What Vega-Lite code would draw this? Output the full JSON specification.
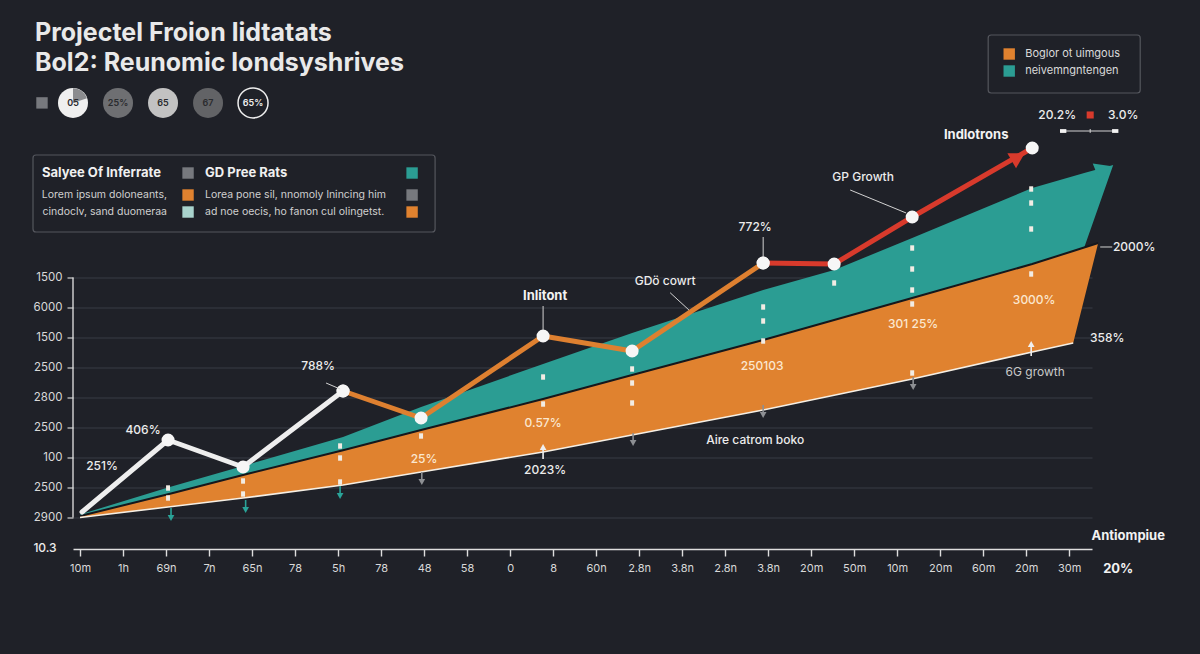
{
  "$schema": "https://vega.github.io/schema/vega-lite/v6.json",
  "width": 1019,
  "height": 271.5,
  "autosize": {"type": "none"},
  "padding": {"left": 73, "top": 277.5, "right": 108, "bottom": 105},
  "background": "#1f2128",
  "config": {
    "view": {"stroke": null},
    "font": "Inter",
    "axis": {"labelFont": "Inter", "labelColor": "#d9d9d9"}
  },
  "datasets": {
    "bands": [
      {"band": "orange", "x": 0, "y": 0.05, "y2": 0},
      {"band": "orange", "x": 2.047, "y": 0.773, "y2": 0.35},
      {"band": "orange", "x": 3.791, "y": 1.417, "y2": 0.65},
      {"band": "orange", "x": 6.116, "y": 2.243, "y2": 1.083},
      {"band": "orange", "x": 7.93, "y": 2.917, "y2": 1.517},
      {"band": "orange", "x": 10.767, "y": 3.95, "y2": 2.183},
      {"band": "orange", "x": 12.837, "y": 4.75, "y2": 2.75},
      {"band": "orange", "x": 15.884, "y": 5.917, "y2": 3.583},
      {"band": "orange", "x": 19.349, "y": 7.317, "y2": 4.617},
      {"band": "orange", "x": 22.14, "y": 8.45, "y2": 5.517},
      {"band": "orange", "x": 23.093, "y": 8.883, "y2": 5.817},
      {"band": "orange", "x": 23.674, "y": 9.15, "y2": 9.15},
      {"band": "teal", "x": 0, "y": 0.1, "y2": 0.05},
      {"band": "teal", "x": 2.047, "y": 1.0, "y2": 0.773},
      {"band": "teal", "x": 3.791, "y": 1.717, "y2": 1.417},
      {"band": "teal", "x": 6.116, "y": 2.683, "y2": 2.243},
      {"band": "teal", "x": 7.93, "y": 3.683, "y2": 2.917},
      {"band": "teal", "x": 10.767, "y": 5.117, "y2": 3.95},
      {"band": "teal", "x": 12.837, "y": 6.15, "y2": 4.75},
      {"band": "teal", "x": 15.884, "y": 7.583, "y2": 5.917},
      {"band": "teal", "x": 17.535, "y": 8.25, "y2": 6.583},
      {"band": "teal", "x": 19.349, "y": 9.317, "y2": 7.317},
      {"band": "teal", "x": 22.14, "y": 10.983, "y2": 8.45},
      {"band": "teal", "x": 23.349, "y": 11.483, "y2": 9.0},
      {"band": "teal", "x": 24.023, "y": 11.75, "y2": 11.75}
    ],
    "series": [
      {"seg": "a", "x": 0.047, "y": 0.183},
      {"seg": "a", "x": 2.047, "y": 2.583},
      {"seg": "a", "x": 3.791, "y": 1.683},
      {"seg": "a", "x": 6.116, "y": 4.217},
      {"seg": "b", "x": 6.116, "y": 4.217},
      {"seg": "b", "x": 7.93, "y": 3.317},
      {"seg": "b", "x": 10.767, "y": 6.05},
      {"seg": "b", "x": 12.837, "y": 5.55},
      {"seg": "b", "x": 15.884, "y": 8.483},
      {"seg": "c", "x": 15.884, "y": 8.483},
      {"seg": "c", "x": 17.535, "y": 8.45},
      {"seg": "c", "x": 19.349, "y": 10.017},
      {"seg": "c", "x": 22.14, "y": 12.317}
    ],
    "heads": [
      {"series": "c", "x": 21.814, "y": 12.017},
      {"series": "teal", "x": 23.814, "y": 11.6}
    ],
    "markers": [
      {"x": 2.047, "y": 0.983}, {"x": 2.047, "y": 0.65},
      {"x": 3.791, "y": 1.217}, {"x": 3.791, "y": 0.783},
      {"x": 6.047, "y": 2.383}, {"x": 6.047, "y": 1.983}, {"x": 6.047, "y": 1.183},
      {"x": 7.93, "y": 2.717},
      {"x": 10.767, "y": 4.683}, {"x": 10.767, "y": 3.783},
      {"x": 12.837, "y": 4.95}, {"x": 12.837, "y": 4.483}, {"x": 12.837, "y": 3.817},
      {"x": 15.884, "y": 7.017}, {"x": 15.884, "y": 6.55}, {"x": 15.884, "y": 5.883},
      {"x": 17.535, "y": 7.817},
      {"x": 19.349, "y": 8.983}, {"x": 19.349, "y": 8.283}, {"x": 19.349, "y": 7.583}, {"x": 19.349, "y": 7.117}, {"x": 19.349, "y": 4.817},
      {"x": 22.116, "y": 10.95}, {"x": 22.116, "y": 10.483}, {"x": 22.116, "y": 9.617}, {"x": 22.116, "y": 8.117}
    ],
    "arrows": [
      {"x": 2.116, "y": -0.017, "y2": 0.317, "dir": "down", "tone": "teal"},
      {"x": 3.851, "y": 0.25, "y2": 0.583, "dir": "down", "tone": "teal"},
      {"x": 6.047, "y": 0.717, "y2": 1.05, "dir": "down", "tone": "teal"},
      {"x": 7.947, "y": 1.183, "y2": 1.517, "dir": "down", "tone": "gray"},
      {"x": 12.86, "y": 2.483, "y2": 2.817, "dir": "down", "tone": "gray"},
      {"x": 15.884, "y": 3.417, "y2": 3.75, "dir": "down", "tone": "gray"},
      {"x": 19.372, "y": 4.35, "y2": 4.683, "dir": "down", "tone": "gray"},
      {"x": 10.767, "y": 2.35, "y2": 1.95, "dir": "up", "tone": "white"},
      {"x": 22.116, "y": 5.783, "y2": 5.383, "dir": "up", "tone": "white"}
    ],
    "leaders": [
      {"x": 10.767, "y": 7.05, "x2": 10.767, "y2": 6.25},
      {"x": 15.884, "y": 9.35, "x2": 15.884, "y2": 8.683},
      {"x": 17.907, "y": 10.917, "x2": 19.209, "y2": 10.15},
      {"x": 13.721, "y": 7.493, "x2": 14.158, "y2": 6.917},
      {"x": 5.721, "y": 4.483, "x2": 6.047, "y2": 4.283},
      {"x": 23.721, "y": 9.017, "x2": 24.0, "y2": 9.017},
      {"x": 22.86, "y": 12.883, "x2": 24.07, "y2": 12.883},
      {"x": 23.488, "y": 12.95, "x2": 23.488, "y2": 12.82}
    ],
    "frame": [
      {"x": -0.163, "y": 0, "x2": -0.163, "y2": 8}
    ],
    "caps": [
      {"x": 22.86, "y": 12.883},
      {"x": 24.07, "y": 12.883}
    ],
    "flags": [
      {"x": 23.488, "y": 13.417}
    ],
    "boxes": [
      {"x": 21.116, "x2": 24.651, "y": 16.083, "y2": 14.15},
      {"x": -1.093, "x2": 8.256, "y": 12.083, "y2": 9.517}
    ],
    "keys": [
      {"x": -0.884, "y": 13.82, "tone": "gray"},
      {"x": 21.605, "y": 15.45, "tone": "orange"},
      {"x": 21.605, "y": 14.883, "tone": "teal"},
      {"x": 2.512, "y": 11.483, "tone": "gray"},
      {"x": 7.721, "y": 11.483, "tone": "teal"},
      {"x": 2.512, "y": 10.75, "tone": "orange"},
      {"x": 7.721, "y": 10.75, "tone": "gray"},
      {"x": 2.512, "y": 10.183, "tone": "mint"},
      {"x": 7.721, "y": 10.183, "tone": "orange"}
    ],
    "badges": [
      {"x": -0.163, "y": 13.82, "tone": "white", "label": "05"},
      {"x": 0.884, "y": 13.82, "tone": "mid", "label": "25%"},
      {"x": 1.93, "y": 13.82, "tone": "light", "label": "65"},
      {"x": 2.977, "y": 13.82, "tone": "dark", "label": "67"},
      {"x": 4.023, "y": 13.82, "tone": "ring", "label": "65%"}
    ],
    "notes": [
      {"kind": "title", "x": -1.047, "y": 16.15, "label": "Projectel Froion lidtatats"},
      {"kind": "title", "x": -1.047, "y": 15.15, "label": "Bol2: Reunomic londsyshrives"},
      {"kind": "bold", "x": 10.814, "y": 7.383, "label": "Inlitont"},
      {"kind": "bold", "x": 20.837, "y": 12.75, "label": "Indlotrons"},
      {"kind": "bold", "x": 24.372, "y": -0.617, "label": "Antiompiue"},
      {"kind": "bold", "x": 24.14, "y": -1.717, "label": "20%"},
      {"kind": "plain", "x": 0.512, "y": 1.717, "label": "251%"},
      {"kind": "plain", "x": 1.465, "y": 2.917, "label": "406%"},
      {"kind": "plain", "x": 5.535, "y": 5.05, "label": "788%"},
      {"kind": "plain", "x": 13.605, "y": 7.883, "label": "GDö cowrt"},
      {"kind": "plain", "x": 15.698, "y": 9.683, "label": "772%"},
      {"kind": "plain", "x": 18.209, "y": 11.35, "label": "GP Growth"},
      {"kind": "plain", "x": 24.512, "y": 9.017, "label": "2000%"},
      {"kind": "plain", "x": 23.884, "y": 5.983, "label": "358%"},
      {"kind": "plain", "x": 10.814, "y": 1.583, "label": "2023%"},
      {"kind": "plain", "x": 15.698, "y": 2.583, "label": "Aire catrom boko"},
      {"kind": "plain", "x": 22.721, "y": 13.417, "label": "20.2%"},
      {"kind": "plain", "x": 24.256, "y": 13.417, "label": "3.0%"},
      {"kind": "plain", "x": -0.814, "y": -1.017, "label": "10.3"},
      {"kind": "band", "x": 22.186, "y": 7.25, "label": "3000%"},
      {"kind": "band", "x": 19.372, "y": 6.45, "label": "301 25%"},
      {"kind": "band", "x": 15.86, "y": 5.05, "label": "250103"},
      {"kind": "band", "x": 10.767, "y": 3.15, "label": "0.57%"},
      {"kind": "band", "x": 8.0, "y": 1.95, "label": "25%"},
      {"kind": "dim", "x": 22.209, "y": 4.85, "label": "6G growth"},
      {"kind": "legend", "x": 21.977, "y": 15.45, "label": "Boglor ot uimgous"},
      {"kind": "legend", "x": 21.977, "y": 14.883, "label": "neivemngntengen"},
      {"kind": "boxhead", "x": -0.884, "y": 11.483, "label": "Salyee Of Inferrate"},
      {"kind": "boxhead", "x": 2.907, "y": 11.483, "label": "GD Pree Rats"},
      {"kind": "boxright", "x": 2.023, "y": 10.75, "label": "Lorem ipsum doloneants,"},
      {"kind": "boxright", "x": 2.023, "y": 10.183, "label": "cindoclv, sand duomeraa"},
      {"kind": "boxleft", "x": 2.907, "y": 10.75, "label": "Lorea pone sil, nnomoly lnincing him"},
      {"kind": "boxleft", "x": 2.907, "y": 10.183, "label": "ad noe oecis, ho fanon cul olingetst."}
    ]
  },
  "encoding": {
    "x": {
      "field": "x", "type": "quantitative", "title": null,
      "scale": {"domain": [-0.163, 23.53], "nice": false, "zero": false},
      "axis": {
        "values": [0, 1, 2, 3, 4, 5, 6, 7, 8, 9, 10, 11, 12, 13, 14, 15, 16, 17, 18, 19, 20, 21, 22, 23],
        "labelExpr": "['10m','1h','69n','7n','65n','78','5h','78','48','58','0','8','60n','2.8n','3.8n','2.8n','3.8n','20m','50m','10m','20m','60m','20m','30m'][datum.value]",
        "labelFlush": false, "labelOverlap": false, "grid": false,
        "domainColor": "#dedede", "domainWidth": 1.6,
        "tickColor": "#dedede", "tickWidth": 1.4, "tickSize": 7,
        "labelPadding": 6, "labelFontSize": 11
      }
    },
    "y": {
      "field": "y", "type": "quantitative", "title": null, "stack": null,
      "scale": {"domain": [-1.05, 8], "nice": false, "zero": false},
      "axis": {
        "values": [0, 1, 2, 3, 4, 5, 6, 7, 8],
        "labelExpr": "['2900','2500','100','2500','2800','2500','1500','6000','1500'][datum.value]",
        "domain": false, "grid": true, "gridColor": "#393c45", "gridWidth": 1,
        "tickColor": "#cfcfcf", "tickSize": 6, "tickWidth": 1.2,
        "labelPadding": 5, "labelFontSize": 11.5
      }
    }
  },
  "layer": [
    {
      "data": {"name": "frame"},
      "mark": {"type": "rule", "color": "#d6d6d6", "strokeWidth": 1.4},
      "encoding": {"x2": {"field": "x2"}, "y2": {"field": "y2"}}
    },
    {
      "data": {"name": "bands"},
      "mark": {"type": "area", "opacity": 1},
      "encoding": {
        "y2": {"field": "y2"},
        "color": {"field": "band", "type": "nominal", "legend": null,
          "scale": {"domain": ["orange", "teal"], "range": ["#e0822f", "#2b9d93"]}}
      }
    },
    {
      "data": {"name": "bands"},
      "transform": [{"filter": "datum.band === 'orange'"}],
      "mark": {"type": "line", "color": "#15171c", "strokeWidth": 2},
      "encoding": {}
    },
    {
      "data": {"name": "bands"},
      "transform": [{"filter": "datum.band === 'orange' && datum.x < 23.5"}],
      "mark": {"type": "line", "color": "#f6efe4", "strokeWidth": 1.6},
      "encoding": {
        "y": {"field": "y2", "type": "quantitative", "title": null,
          "scale": {"domain": [-1.05, 8], "nice": false, "zero": false}}
      }
    },
    {
      "data": {"name": "markers"},
      "mark": {"type": "point", "filled": true, "opacity": 1, "color": "#f2ece4",
        "shape": "M-0.55,-0.75L0.55,-0.75L0.55,0.75L-0.55,0.75Z", "size": 52}
    },
    {
      "data": {"name": "arrows"},
      "mark": {"type": "rule", "strokeWidth": 1.6},
      "encoding": {
        "y2": {"field": "y2"},
        "color": {"field": "tone", "type": "nominal", "legend": null,
          "scale": {"domain": ["teal", "gray", "white"], "range": ["#2aa398", "#8d8f93", "#efefef"]}}
      }
    },
    {
      "data": {"name": "arrows"},
      "mark": {"type": "point", "filled": true, "opacity": 1, "size": 45},
      "encoding": {
        "shape": {"field": "dir", "type": "nominal", "legend": null,
          "scale": {"domain": ["down", "up"], "range": ["triangle-down", "triangle-up"]}},
        "color": {"field": "tone", "type": "nominal", "legend": null,
          "scale": {"domain": ["teal", "gray", "white"], "range": ["#2aa398", "#8d8f93", "#efefef"]}}
      }
    },
    {
      "data": {"name": "heads"},
      "transform": [{"filter": "datum.series === 'teal'"}],
      "mark": {"type": "point", "filled": true, "opacity": 1, "shape": "triangle-up", "angle": 68, "size": 380, "color": "#2b9d93"}
    },
    {
      "data": {"name": "series"},
      "mark": {"type": "line", "strokeWidth": 5, "strokeCap": "round", "strokeJoin": "round"},
      "encoding": {
        "color": {"field": "seg", "type": "nominal", "legend": null,
          "scale": {"domain": ["a", "b", "c"], "range": ["#eeeeee", "#de8030", "#d83a2c"]}}
      }
    },
    {
      "data": {"name": "heads"},
      "transform": [{"filter": "datum.series === 'c'"}],
      "mark": {"type": "point", "filled": true, "opacity": 1, "shape": "triangle-up", "angle": 60, "size": 300, "color": "#d83a2c"}
    },
    {
      "data": {"name": "series"},
      "transform": [{"filter": "datum.x > 0.1"}],
      "mark": {"type": "point", "filled": true, "opacity": 1, "size": 170, "color": "#f6f6f6"}
    },
    {
      "data": {"name": "leaders"},
      "mark": {"type": "rule", "color": "#d2d2d2", "strokeWidth": 1},
      "encoding": {"x2": {"field": "x2"}, "y2": {"field": "y2"}}
    },
    {
      "data": {"name": "caps"},
      "mark": {"type": "point", "filled": true, "opacity": 1, "color": "#f2f2f2",
        "shape": "M-1,-0.6L1,-0.6L1,0.6L-1,0.6Z", "size": 40}
    },
    {
      "data": {"name": "flags"},
      "mark": {"type": "point", "filled": true, "opacity": 1, "shape": "square", "size": 50, "color": "#d83a2c"}
    },
    {
      "data": {"name": "boxes"},
      "mark": {"type": "rect", "fill": "#1f2128", "fillOpacity": 0, "stroke": "#54565d", "strokeWidth": 1.2, "cornerRadius": 3},
      "encoding": {"x2": {"field": "x2"}, "y2": {"field": "y2"}}
    },
    {
      "data": {"name": "keys"},
      "mark": {"type": "point", "filled": true, "opacity": 1, "shape": "square", "size": 130},
      "encoding": {
        "color": {"field": "tone", "type": "nominal", "legend": null,
          "scale": {"domain": ["gray", "orange", "teal", "mint"], "range": ["#77797e", "#e0822f", "#2b9d93", "#a9d3cd"]}}
      }
    },
    {
      "data": {"name": "badges"},
      "mark": {"type": "point", "filled": true, "opacity": 1, "shape": "circle", "size": 900},
      "encoding": {
        "color": {"field": "tone", "type": "nominal", "legend": null,
          "scale": {"domain": ["white", "mid", "light", "dark", "ring"], "range": ["#efefef", "#6e6f72", "#c2c2c2", "#626366", "#1f2128"]}}
      }
    },
    {
      "data": {"name": "badges"},
      "transform": [{"filter": "datum.tone === 'ring'"}],
      "mark": {"type": "point", "filled": false, "opacity": 1, "shape": "circle", "size": 900, "color": "#eeeeee", "strokeWidth": 1.5}
    },
    {
      "data": {"name": "badges"},
      "transform": [{"filter": "datum.tone === 'white'"}],
      "mark": {"type": "point", "filled": true, "opacity": 1, "shape": "M0,0L0,-1A1,1,0,0,1,0.95,-0.31Z", "size": 860, "color": "#8b8c8f"}
    },
    {
      "data": {"name": "badges"},
      "transform": [{"filter": "datum.tone !== 'ring'"}],
      "mark": {"type": "text", "fontSize": 9, "fontWeight": 600, "color": "#2a2b2e", "align": "center", "baseline": "middle"},
      "encoding": {"text": {"field": "label"}}
    },
    {
      "data": {"name": "badges"},
      "transform": [{"filter": "datum.tone === 'ring'"}],
      "mark": {"type": "text", "fontSize": 9, "fontWeight": 600, "color": "#eeeeee", "align": "center", "baseline": "middle"},
      "encoding": {"text": {"field": "label"}}
    },
    {
      "data": {"name": "notes"},
      "transform": [{"filter": "datum.kind === 'title'"}],
      "mark": {"type": "text", "fontSize": 25, "fontWeight": 700, "color": "#e9e9e9", "align": "left", "baseline": "middle"},
      "encoding": {"text": {"field": "label"}}
    },
    {
      "data": {"name": "notes"},
      "transform": [{"filter": "datum.kind === 'bold'"}],
      "mark": {"type": "text", "fontSize": 13, "fontWeight": 700, "color": "#f2f2f2", "align": "center", "baseline": "middle"},
      "encoding": {"text": {"field": "label"}}
    },
    {
      "data": {"name": "notes"},
      "transform": [{"filter": "datum.kind === 'plain'"}],
      "mark": {"type": "text", "fontSize": 12, "fontWeight": 500, "color": "#ececec", "align": "center", "baseline": "middle"},
      "encoding": {"text": {"field": "label"}}
    },
    {
      "data": {"name": "notes"},
      "transform": [{"filter": "datum.kind === 'band'"}],
      "mark": {"type": "text", "fontSize": 12, "fontWeight": 500, "color": "#fbe7cf", "align": "center", "baseline": "middle"},
      "encoding": {"text": {"field": "label"}}
    },
    {
      "data": {"name": "notes"},
      "transform": [{"filter": "datum.kind === 'dim'"}],
      "mark": {"type": "text", "fontSize": 12, "color": "#c9c9c9", "align": "center", "baseline": "middle"},
      "encoding": {"text": {"field": "label"}}
    },
    {
      "data": {"name": "notes"},
      "transform": [{"filter": "datum.kind === 'legend'"}],
      "mark": {"type": "text", "fontSize": 11, "color": "#dadada", "align": "left", "baseline": "middle"},
      "encoding": {"text": {"field": "label"}}
    },
    {
      "data": {"name": "notes"},
      "transform": [{"filter": "datum.kind === 'boxhead'"}],
      "mark": {"type": "text", "fontSize": 13, "fontWeight": 700, "color": "#f0f0f0", "align": "left", "baseline": "middle"},
      "encoding": {"text": {"field": "label"}}
    },
    {
      "data": {"name": "notes"},
      "transform": [{"filter": "datum.kind === 'boxright'"}],
      "mark": {"type": "text", "fontSize": 10.5, "color": "#d0d0d0", "align": "right", "baseline": "middle"},
      "encoding": {"text": {"field": "label"}}
    },
    {
      "data": {"name": "notes"},
      "transform": [{"filter": "datum.kind === 'boxleft'"}],
      "mark": {"type": "text", "fontSize": 10.5, "color": "#d0d0d0", "align": "left", "baseline": "middle"},
      "encoding": {"text": {"field": "label"}}
    }
  ],
  "resolve": {"scale": {"color": "independent", "shape": "independent"}}
}
